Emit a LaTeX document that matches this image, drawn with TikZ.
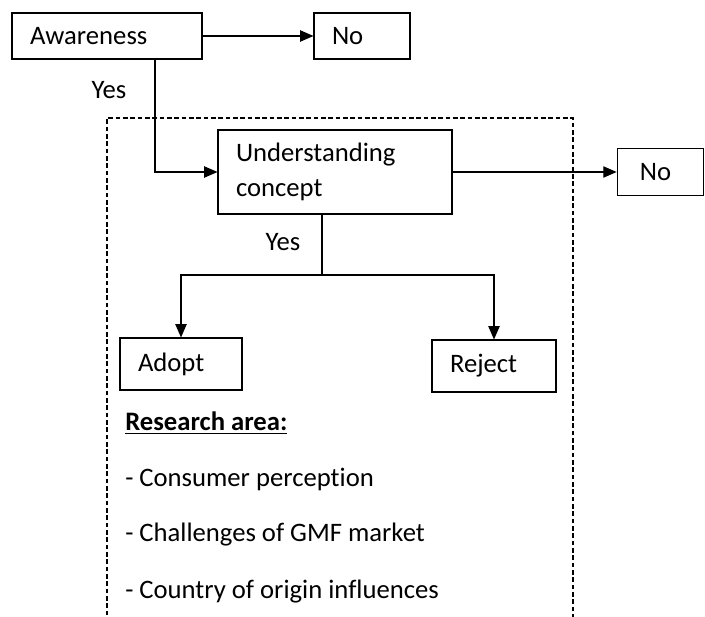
\documentclass[tikz,border=0pt]{standalone}
\usepackage{fontspec}
\setmainfont{Carlito}[Ligatures={NoCommon}]
\usetikzlibrary{arrows.meta}
\usetikzlibrary{positioning}

\tikzset{
  stepbox/.style 2 args={draw, line width=0.8pt, rectangle, align=left,
    inner xsep=13.5pt, inner ysep=2pt, text width=#1-27pt,
    minimum height=#2, font=\fontsize{20}{26}\selectfont},
  arr/.style={line width=0.8pt, -{Triangle[length=10pt,width=8.5pt]}},
  lbl/.style={font=\fontsize{20}{24}\selectfont, inner sep=0pt}
}

\begin{document}
\begin{tikzpicture}[x=0.75pt, y=-0.75pt]
            \useasboundingbox (0,0) rectangle (705,616);
            % dashed frame of the research area
            \draw[line width=0.8pt, dash pattern=on 3.5pt off 2pt] (107,630) -- (107,118) -- (573,118) -- (573,630);

            % boxes
            \node[stepbox={142.5pt}{34.5pt}] (aware) at (107,36) {Awareness};
            \node[stepbox={72pt}{34.5pt}] (no1) at (362,36) {No};
            \node[stepbox={175.5pt}{63pt}] (under) at (335,172) {Understanding\\concept};
            \node[stepbox={65pt}{35pt}, inner xsep=17pt, text width=31pt] (no2) at (660.5,172) {No};
            \node[stepbox={91.5pt}{39pt}] (adopt) at (181,364) {Adopt};
            \node[stepbox={93pt}{39pt}] (reject) at (494,366) {Reject};

            % labels
            \node[lbl] (yes1) at (109,90) {Yes};
            \node[lbl] (yes2) at (283,242) {Yes};

            % connectors
            \coordinate (bend) at (155,172);
            \coordinate (split) at (322,275);
            \draw[arr] (aware) -- (no1);
            \draw[arr] (aware.south -| bend) -- (bend) -- (under.west);
            \draw[arr] (under) -- (no2);
            \draw[line width=0.8pt] (under.south -| split) -- (split);
            \draw[arr] (split) -| (adopt.north);
            \draw[arr] (split) -| (reject.north);

            % research area
            \node[lbl, anchor=west] (area) at (125,423) {\underline{\textbf{Research area:}}};
            \node[lbl, anchor=west] (item1) at (125,479) {- Consumer perception};
            \node[lbl, anchor=west] (item2) at (125,535) {- Challenges of GMF market};
            \node[lbl, anchor=west] (item3) at (125,592) {- Country of origin influences};
        \end{tikzpicture}
\end{document}
